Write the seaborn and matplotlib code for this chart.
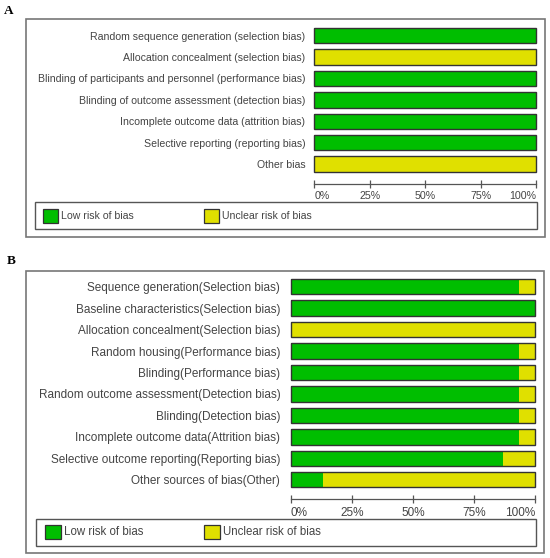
import matplotlib
matplotlib.use("Agg")
import matplotlib.pyplot as plt
from matplotlib.patches import Rectangle
import numpy as np
import pandas as pd
import seaborn as sns

# ---------------- data ----------------
categories_a = [
    "Random sequence generation (selection bias)",
    "Allocation concealment (selection bias)",
    "Blinding of participants and personnel (performance bias)",
    "Blinding of outcome assessment (detection bias)",
    "Incomplete outcome data (attrition bias)",
    "Selective reporting (reporting bias)",
    "Other bias",
]
low_a = [100, 0, 100, 100, 100, 100, 0]
unclear_a = [0, 100, 0, 0, 0, 0, 100]

categories_b = [
    "Sequence generation(Selection bias)",
    "Baseline characteristics(Selection bias)",
    "Allocation concealment(Selection bias)",
    "Random housing(Performance bias)",
    "Blinding(Performance bias)",
    "Random outcome assessment(Detection bias)",
    "Blinding(Detection bias)",
    "Incomplete outcome data(Attrition bias)",
    "Selective outcome reporting(Reporting bias)",
    "Other sources of bias(Other)",
]
low_b = [93.3, 100, 0, 93.3, 93.3, 93.3, 93.3, 93.3, 86.7, 13.3]
unclear_b = [6.7, 0, 100, 6.7, 6.7, 6.7, 6.7, 6.7, 13.3, 86.7]

tick_vals = [0, 25, 50, 75, 100]
tick_labels = ["0%", "25%", "50%", "75%", "100%"]
legend_labels = ["Low risk of bias", "Unclear risk of bias"]

# ---------------- style ----------------
sns.set_style("white")
plt.rcParams["font.family"] = ["Liberation Sans", "DejaVu Sans"]

GREEN = "#00BE00"
YELLOW = "#E0E000"
EDGE = "#333333"
TEXT = "#444444"

W, H = 550, 558
fig = plt.figure(figsize=(W / 100, H / 100), dpi=100)


def frect(x0, y0, x1, y1):
    return [x0 / W, 1 - y1 / H, (x1 - x0) / W, (y1 - y0) / H]


def add_box(x0, y0, x1, y1, ec, lw):
    fig.patches.append(Rectangle((x0 / W, 1 - y1 / H), (x1 - x0) / W, (y1 - y0) / H,
                                 transform=fig.transFigure, fill=False, ec=ec, lw=lw))


def panel(cats, low, unclear, ax_px, ylim_bottom, ypad, fs, tfs, xpad):
    ax = fig.add_axes(frect(*ax_px))
    df = pd.DataFrame({"cat": cats, "low": low,
                       "total": np.array(low) + np.array(unclear)})
    sns.barplot(data=df, x="total", y="cat", orient="h", color=YELLOW,
                saturation=1, width=0.72, linewidth=0, ax=ax)
    sns.barplot(data=df, x="low", y="cat", orient="h", color=GREEN,
                saturation=1, width=0.72, linewidth=0, ax=ax)
    sns.barplot(data=df, x="total", y="cat", orient="h", color=EDGE, fill=False,
                width=0.72, linewidth=1.0, ax=ax)
    for p in ax.patches:
        p.set_clip_on(False)
    ax.set_xlim(0, 100)
    ax.set_ylim(ylim_bottom, -0.5)
    ax.set_xlabel("")
    ax.set_ylabel("")
    for s in ["top", "left", "right"]:
        ax.spines[s].set_visible(False)
    ax.spines["bottom"].set_color("#555555")
    ax.spines["bottom"].set_linewidth(0.9)
    ax.set_facecolor("none")
    ax.set_xticks(tick_vals)
    ax.set_xticklabels(tick_labels)
    ax.tick_params(axis="x", bottom=True, direction="inout", length=6, width=0.9,
                   color="#555555", labelsize=tfs, labelcolor=TEXT, pad=xpad)
    labs = ax.get_xticklabels()
    labs[0].set_ha("left")
    labs[-1].set_ha("right")
    ax.tick_params(axis="y", left=False, length=0, labelsize=fs, labelcolor=TEXT, pad=ypad)
    return ax


def legend(px_box, green_px, yellow_px, fs):
    x0, y0, x1, y1 = px_box
    add_box(x0, y0, x1, y1, "#555555", 1.0)
    for (gx0, gy0, gx1, gy1), col, lab in zip([green_px, yellow_px], [GREEN, YELLOW], legend_labels):
        fig.patches.append(Rectangle((gx0 / W, 1 - gy1 / H), (gx1 - gx0) / W, (gy1 - gy0) / H,
                                     transform=fig.transFigure, fc=col, ec=EDGE, lw=0.9))
        fig.text((gx1 + 3) / W, 1 - ((gy0 + gy1) / 2) / H, lab, ha="left", va="center",
                 fontsize=fs, color=TEXT)


# ---------- Panel A ----------
add_box(26, 19, 545, 237, "#777777", 1.2)
fig.text(4 / W, 1 - 11.5 / H, "A", fontsize=9.5, fontweight="bold",
         family="Liberation Serif", ha="left", va="center", color="black")
panel(categories_a, low_a, unclear_a, (314.3, 25, 536, 184), 6.935, 6.5, 7.6, 7.7, 1.8)
legend((35, 202, 537, 229), (43, 209, 57.7, 222.7), (204, 209, 218.5, 222.7), 7.6)

# ---------- Panel B ----------
add_box(26, 270.7, 544, 552.5, "#777777", 1.2)
fig.text(7 / W, 1 - 260.5 / H, "B", fontsize=9.5, fontweight="bold",
         family="Liberation Serif", ha="left", va="center", color="black")
panel(categories_b, low_b, unclear_b, (290.7, 276, 535.3, 499.3), 9.914, 7.5, 8.5, 8.5, 2.5)
legend((35.7, 518.5, 536.3, 545.5), (45, 525, 60.7, 538.5), (204, 525, 220, 538.5), 8.3)

fig.savefig("out.png", dpi=100)
